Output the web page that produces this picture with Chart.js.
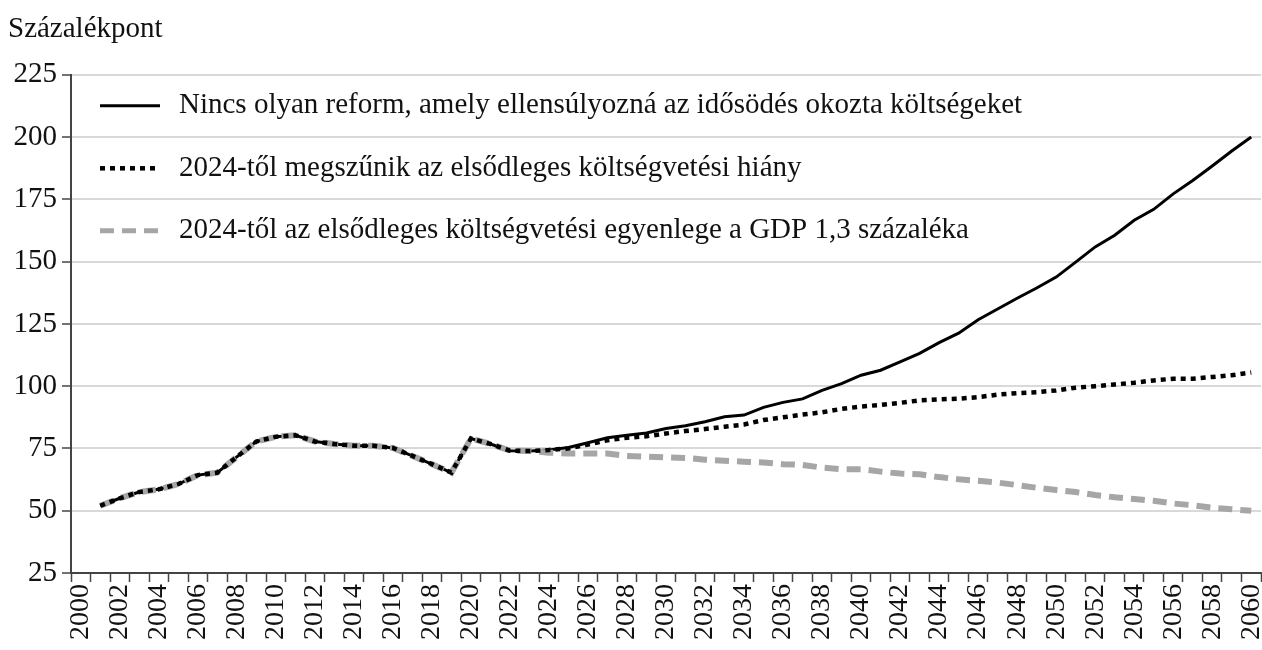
<!DOCTYPE html>
<html>
<head>
<meta charset="utf-8">
<script src="https://cdn.jsdelivr.net/npm/chart.js@4/dist/chart.umd.min.js"></script>
<style>
  body { margin: 0; background: #fff; }
</style>
</head>
<body>
<canvas id="chart-debt" width="1262" height="650"></canvas>
<script>
// years 2000..2060 on the category axis
const years = [];
for (let y = 2000; y <= 2060; y++) years.push(String(y));

// common history 2001-2023 (2000 has no value)
const history = [52, 55, 57.5, 58.6, 60.7, 64.3, 65.3, 71.6, 77.8, 79.7, 80.3, 77.8,
    76.8, 76.1, 76.1, 75.2, 72, 68.7, 65.3, 79, 76.8, 74.1, 74];

// projections 2024-2060
const noReform = [74.4, 75.4, 77.3, 79.3, 80.3, 81.2, 83, 84.1, 85.7, 87.7, 88.4,
    91.5, 93.5, 94.9, 98.3, 101, 104.4, 106.4, 109.8, 113.2, 117.5,
    121.3, 126.7, 131, 135.3, 139.4, 143.8, 149.8, 155.9, 160.6, 166.6,
    171, 177.2, 182.6, 188.4, 194.4, 200];
const noDeficit = [74.4, 75, 76.6, 78.3, 79.3, 79.9, 81, 82, 82.8, 83.7, 84.6,
    86.4, 87.5, 88.6, 89.5, 90.9, 91.8, 92.5, 93.3, 94.3, 94.7,
    95, 95.6, 96.6, 97.2, 97.6, 98.3, 99.4, 100, 100.7, 101.4,
    102.3, 103, 103, 103.7, 104.4, 105.5];
const surplus = [73.3, 73, 73, 73, 72, 71.7, 71.4, 71.2, 70.5, 70.1, 69.7,
    69.4, 68.7, 68.4, 67.3, 66.7, 66.7, 65.7, 64.9, 64.6, 63.5,
    62.6, 62, 61.3, 60.3, 59.2, 58.3, 57.5, 56.3, 55.4, 54.7,
    54, 52.9, 52.2, 51.2, 50.6, 50];

const seriesLabels = [
    "Nincs olyan reform, amely ellensúlyozná az idősödés okozta költségeket",
    "2024-től megszűnik az elsődleges költségvetési hiány",
    "2024-től az elsődleges költségvetési egyenlege a GDP 1,3 százaléka",
];
const yTicks = [25, 50, 75, 100, 125, 150, 175, 200, 225];

const serif = "'Liberation Serif', 'Times New Roman', serif";

const full = (proj) => [null, ...history, ...proj];

// legend drawn inside the plot, top left
const inlineLegend = {
    id: "inlineLegend",
    afterDraw(chart) {
        const ctx = chart.ctx;
        const area = chart.chartArea;
        chart.data.datasets.forEach((ds, i) => {
            const y = area.top + 31 + i * 62.5;
            const x0 = area.left + 29;
            ctx.save();
            ctx.strokeStyle = ds.borderColor;
            ctx.lineWidth = Math.min(ds.borderWidth, 5);
            ctx.setLineDash(ds.borderDash || []);
            ctx.lineCap = "butt";
            ctx.beginPath();
            ctx.moveTo(x0, y);
            ctx.lineTo(x0 + 60, y);
            ctx.stroke();
            ctx.setLineDash([]);
            ctx.fillStyle = "#111";
            ctx.font = "29px " + serif;
            ctx.textBaseline = "middle";
            ctx.fillText(ds.label, x0 + 79, y);
            ctx.restore();
        });
    },
};

const data = {
    labels: years,
    datasets: [
        {
            label: seriesLabels[0],
            data: full(noReform),
            borderColor: "#000",
            borderWidth: 3,
            order: 3,
        },
        {
            label: seriesLabels[1],
            data: full(noDeficit),
            borderColor: "#000",
            borderWidth: 4.5,
            borderDash: [5, 5],
            order: 1,
        },
        {
            label: seriesLabels[2],
            data: full(surplus),
            borderColor: "#a6a6a6",
            borderWidth: 6,
            borderDash: [14, 8],
            order: 2,
        },
    ],
};

const config = {
    type: "line",
    data: data,
    options: {
        responsive: false,
        animation: false,
        layout: { padding: { left: 8, right: 1, top: 0, bottom: 0 } },
        elements: {
            point: { radius: 0 },
            line: { tension: 0, borderCapStyle: "butt", fill: false },
        },
        plugins: {
            legend: { display: false },
            tooltip: { enabled: false },
            title: {
                display: true,
                text: "Százalékpont",
                align: "start",
                color: "#111",
                font: { family: serif, size: 29, weight: "normal" },
                padding: { top: 12, bottom: 28 },
            },
        },
        scales: {
            x: {
                type: "category",
                offset: true,
                afterFit: (scale) => {
                    scale.height = 77;
                    scale.paddingLeft = 0;
                    scale.paddingRight = 0;
                },
                border: { display: true, color: "#444", width: 2 },
                grid: {
                    offset: true,
                    drawOnChartArea: false,
                    drawTicks: true,
                    tickLength: 9,
                    tickColor: "#444",
                    tickWidth: 1.5,
                },
                ticks: {
                    autoSkip: false,
                    minRotation: 90,
                    maxRotation: 90,
                    padding: 2,
                    color: "#111",
                    font: { family: serif, size: 28 },
                    callback: function (value, index) {
                        return index % 2 === 0 ? this.getLabelForValue(value) : "";
                    },
                },
            },
            y: {
                min: 25,
                max: 225,
                afterFit: (scale) => { scale.width = 63; },
                afterBuildTicks: (scale) => { scale.ticks = yTicks.map((v) => ({ value: v })); },
                border: { display: true, color: "#444", width: 2 },
                grid: {
                    color: "#d9d9d9",
                    lineWidth: 2,
                    drawTicks: true,
                    tickLength: 9,
                    tickColor: "#444",
                    tickWidth: 1.5,
                },
                ticks: {
                    padding: 5,
                    color: "#111",
                    font: { family: serif, size: 29 },
                },
            },
        },
    },
    plugins: [inlineLegend],
};

const canvas = document.getElementById("chart-debt");
const chart = new Chart(canvas, config);
</script>
</body>
</html>
